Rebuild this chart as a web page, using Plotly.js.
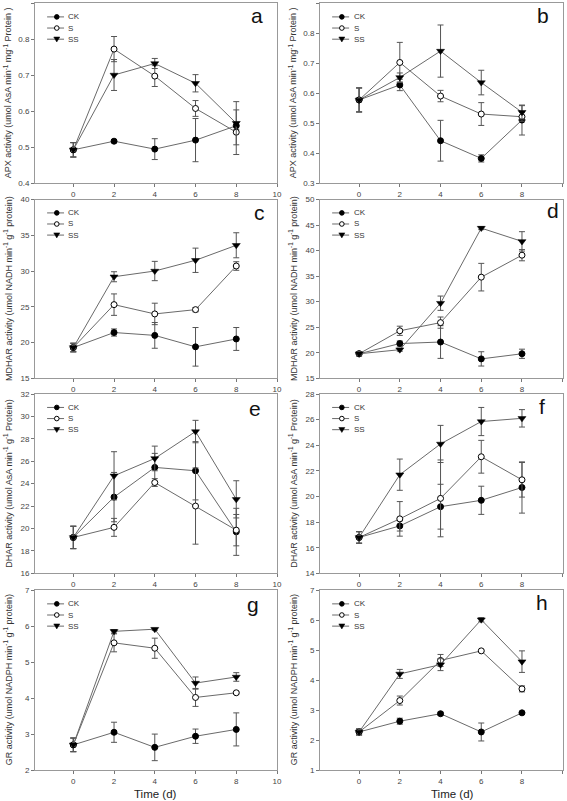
<!DOCTYPE html>
<html>
<head>
<meta charset="utf-8">
<script src="https://cdn.plot.ly/plotly-3.0.1.min.js"></script>
<style>html,body{margin:0;padding:0;background:#fff;}#chart{width:567px;height:801px;}</style>
</head>
<body>
<div id="chart"></div>
<script>
// ---- data ----
const days = [0, 2, 4, 6, 8];
const seriesNames = ['CK', 'S', 'SS'];
const panelLetters = ['a', 'b', 'c', 'd', 'e', 'f', 'g', 'h'];
const xTickVals = [0, 2, 4, 6, 8, 10];

// a: APX
const apxA_CK = [0.493, 0.517, 0.495, 0.520, 0.560];
const apxA_CK_err = [0.020, 0.004, 0.029, 0.060, 0.010];
const apxA_S = [0.493, 0.773, 0.698, 0.608, 0.542];
const apxA_S_err = [0.020, 0.035, 0.029, 0.022, 0.062];
const apxA_SS = [0.493, 0.701, 0.733, 0.678, 0.567];
const apxA_SS_err = [0.020, 0.043, 0.014, 0.024, 0.060];
// b: APX
const apxB_CK = [0.578, 0.628, 0.442, 0.383, 0.511];
const apxB_CK_err = [0.040, 0.019, 0.068, 0.012, 0.050];
const apxB_S = [0.578, 0.703, 0.591, 0.531, 0.522];
const apxB_S_err = [0.040, 0.067, 0.019, 0.038, 0.015];
const apxB_SS = [0.578, 0.653, 0.741, 0.636, 0.537];
const apxB_SS_err = [0.040, 0.015, 0.087, 0.041, 0.022];
// c: MDHAR
const mdharC_CK = [19.3, 21.4, 21.0, 19.4, 20.5];
const mdharC_CK_err = [0.6, 0.5, 1.8, 2.7, 1.6];
const mdharC_S = [19.3, 25.3, 24.0, 24.6, 30.7];
const mdharC_S_err = [0.6, 1.5, 1.5, 0.3, 0.6];
const mdharC_SS = [19.3, 29.2, 30.0, 31.5, 33.6];
const mdharC_SS_err = [0.6, 0.7, 1.35, 1.7, 1.75];
// d: MDHAR
const mdharD_CK = [19.8, 21.8, 22.1, 18.8, 19.8];
const mdharD_CK_err = [0.4, 0.5, 3.2, 1.4, 0.9];
const mdharD_S = [19.8, 24.3, 25.9, 34.8, 39.1];
const mdharD_S_err = [0.4, 0.9, 1.1, 2.7, 1.1];
const mdharD_SS = [19.8, 20.6, 29.7, 44.4, 41.8];
const mdharD_SS_err = [0.4, 0.3, 1.4, 0.3, 1.9];
// e: DHAR
const dharE_CK = [19.2, 22.8, 25.45, 25.15, 19.7];
const dharE_CK_err = [1.0, 2.2, 1.25, 2.6, 2.1];
const dharE_S = [19.2, 20.1, 24.1, 22.0, 19.85];
const dharE_S_err = [1.0, 0.8, 0.35, 3.4, 1.4];
const dharE_SS = [19.2, 24.7, 26.25, 28.65, 22.6];
const dharE_SS_err = [1.0, 2.15, 1.1, 1.0, 1.66];
// f: DHAR
const dharF_CK = [16.8, 17.7, 19.2, 19.7, 20.7];
const dharF_CK_err = [0.45, 0.4, 1.75, 1.1, 2.0];
const dharF_S = [16.8, 18.25, 19.85, 23.1, 21.3];
const dharF_S_err = [0.45, 1.35, 3.0, 1.28, 1.35];
const dharF_SS = [16.8, 21.7, 24.1, 25.85, 26.1];
const dharF_SS_err = [0.45, 1.22, 1.45, 1.1, 0.68];
// g: GR
const grG_CK = [2.70, 3.05, 2.63, 2.94, 3.13];
const grG_CK_err = [0.19, 0.28, 0.37, 0.20, 0.46];
const grG_S = [2.70, 5.54, 5.39, 4.02, 4.15];
const grG_S_err = [0.19, 0.25, 0.28, 0.25, 0.03];
const grG_SS = [2.70, 5.86, 5.92, 4.42, 4.59];
const grG_SS_err = [0.19, 0.05, 0.03, 0.17, 0.12];
// h: GR
const grH_CK = [2.27, 2.63, 2.88, 2.27, 2.91];
const grH_CK_err = [0.10, 0.10, 0.05, 0.30, 0.03];
const grH_S = [2.27, 3.32, 4.66, 4.98, 3.71];
const grH_S_err = [0.10, 0.15, 0.20, 0.03, 0.10];
const grH_SS = [2.27, 4.21, 4.52, 6.02, 4.62];
const grH_SS_err = [0.10, 0.15, 0.20, 0.07, 0.36];

const yTitles = [
  'APX activity (umol AsA min<sup>-1</sup> mg<sup>-1</sup> Protein )',
  'APX activity (umol AsA min<sup>-1</sup> mg<sup>-1</sup> Protein )',
  'MDHAR activity (umol NADH min<sup>-1</sup> g<sup>-1</sup> protein)',
  'MDHAR activity (umol NADH min<sup>-1</sup> g<sup>-1</sup> protein)',
  'DHAR activity (umol AsA min<sup>-1</sup> g<sup>-1</sup> Protein)',
  'DHAR activity (umol AsA min<sup>-1</sup> g<sup>-1</sup> Protein)',
  'GR activity (umol NADPH min<sup>-1</sup> g<sup>-1</sup> protein)',
  'GR activity (umol NADPH min<sup>-1</sup> g<sup>-1</sup> protein)'
];
const yRanges = [[0.4, 0.9], [0.3, 0.9], [15, 40], [15, 50], [16, 32], [14, 28], [2, 7], [1, 7]];
const yDticks = [0.1, 0.1, 5, 5, 2, 2, 1, 1];
const xTitle = 'Time (d)';

const panelData = [
  [[apxA_CK, apxA_CK_err], [apxA_S, apxA_S_err], [apxA_SS, apxA_SS_err]],
  [[apxB_CK, apxB_CK_err], [apxB_S, apxB_S_err], [apxB_SS, apxB_SS_err]],
  [[mdharC_CK, mdharC_CK_err], [mdharC_S, mdharC_S_err], [mdharC_SS, mdharC_SS_err]],
  [[mdharD_CK, mdharD_CK_err], [mdharD_S, mdharD_S_err], [mdharD_SS, mdharD_SS_err]],
  [[dharE_CK, dharE_CK_err], [dharE_S, dharE_S_err], [dharE_SS, dharE_SS_err]],
  [[dharF_CK, dharF_CK_err], [dharF_S, dharF_S_err], [dharF_SS, dharF_SS_err]],
  [[grG_CK, grG_CK_err], [grG_S, grG_S_err], [grG_SS, grG_SS_err]],
  [[grH_CK, grH_CK_err], [grH_S, grH_S_err], [grH_SS, grH_SS_err]]
];

// ---- layout / style ----
const W = 567, H = 801;
const FONT = 'Liberation Sans, Arial, sans-serif';
const colX = [[35, 277], [320, 562.7]];
const xRanges = [[-1.88, 10], [-1.92, 10]];
const rowY = [[3.4, 183.3], [199.5, 378.3], [394, 573.3], [590.4, 770]];
const letterPos = [[0.917, 0.935], [0.919, 0.935], [0.926, 0.927], [0.96, 0.94], [0.91, 0.92], [0.915, 0.93], [0.90, 0.92], [0.916, 0.93]];
const legY = [0.925, 0.863, 0.801];
const markerStyles = [
  {symbol: 'circle', size: 6, color: '#000', line: {color: '#000', width: 1}},
  {symbol: 'circle', size: 6, color: '#fff', line: {color: '#000', width: 1}},
  {symbol: 'triangle-down', size: 7, color: '#000', line: {color: '#000', width: 0.5}}
];

const traces = [];
const layout = {
  width: W, height: H,
  margin: {l: 0, r: 0, t: 0, b: 0},
  paper_bgcolor: '#fff', plot_bgcolor: '#fff',
  showlegend: false,
  font: {family: FONT, color: '#333'},
  annotations: [], shapes: []
};

for (let p = 0; p < 8; p++) {
  const col = p % 2, row = Math.floor(p / 2);
  const n = p + 1;
  const xs = n === 1 ? '' : String(n);
  const xa = 'x' + xs, ya = 'y' + xs;
  const xd = [colX[col][0] / W, colX[col][1] / W];
  const yd = [1 - rowY[row][1] / H, 1 - rowY[row][0] / H];
  layout['xaxis' + xs] = {
    domain: xd, anchor: ya, range: xRanges[col], tickvals: xTickVals,
    ticks: 'outside', ticklen: 3, tickcolor: '#777', showline: true, linecolor: '#999', linewidth: 1,
    mirror: true, showgrid: false, zeroline: false,
    tickfont: {size: 8, color: '#444', family: FONT}
  };
  layout['yaxis' + xs] = {
    domain: yd, anchor: xa, range: yRanges[p], dtick: yDticks[p], tick0: yRanges[p][0],
    ticks: 'outside', ticklen: 3, tickcolor: '#777', showline: true, linecolor: '#999', linewidth: 1,
    mirror: true, showgrid: false, zeroline: false,
    tickfont: {size: 8, color: '#444', family: FONT}
  };
  panelData[p].forEach((s, i) => {
    traces.push({
      type: 'scatter', mode: 'lines+markers', x: days, y: s[0], name: seriesNames[i],
      xaxis: xa, yaxis: ya, cliponaxis: false,
      line: {color: '#6a6a6a', width: 1},
      marker: markerStyles[i],
      error_y: {type: 'data', array: s[1], visible: true, color: '#555', thickness: 1, width: 3}
    });
  });
  // panel letter
  layout.annotations.push({
    xref: xa + ' domain', yref: ya + ' domain', x: letterPos[p][0], y: letterPos[p][1],
    text: panelLetters[p], showarrow: false, xanchor: 'center', yanchor: 'middle',
    font: {size: 21, color: '#111', family: FONT}
  });
  // y title
  layout.annotations.push({
    xref: 'paper', yref: ya + ' domain', x: (col === 0 ? 8 : 293) / W, y: 0.5,
    text: yTitles[p], textangle: -90, showarrow: false, xanchor: 'center', yanchor: 'middle',
    font: {size: 9, color: '#333', family: FONT}
  });
  // legend
  seriesNames.forEach((nm, i) => {
    layout.shapes.push({type: 'line', xref: xa + ' domain', yref: ya + ' domain',
      x0: 0.05, x1: 0.12, y0: legY[i], y1: legY[i], line: {color: '#6a6a6a', width: 1}});
    if (i < 2) {
      layout.shapes.push({type: 'circle', xref: xa + ' domain', yref: ya + ' domain',
        xsizemode: 'pixel', ysizemode: 'pixel', xanchor: 0.09, yanchor: legY[i],
        x0: -2.3, x1: 2.3, y0: -2.3, y1: 2.3,
        fillcolor: i === 0 ? '#000' : '#fff', line: {color: '#000', width: 1}});
    } else {
      layout.shapes.push({type: 'path', xref: xa + ' domain', yref: ya + ' domain',
        xsizemode: 'pixel', ysizemode: 'pixel', xanchor: 0.09, yanchor: legY[i],
        path: 'M-3,2.2L3,2.2L0,-2.8Z', fillcolor: '#000', line: {color: '#000', width: 0.5}});
    }
    layout.annotations.push({
      xref: xa + ' domain', yref: ya + ' domain', x: 0.13, y: legY[i],
      text: nm, showarrow: false, xanchor: 'left', yanchor: 'middle',
      font: {size: 8, color: '#333', family: FONT}
    });
  });
}
// x titles
layout.annotations.push({xref: 'paper', yref: 'paper', x: 155 / W, y: 1 - 794 / H, text: xTitle,
  showarrow: false, xanchor: 'center', yanchor: 'middle', font: {size: 11.5, color: '#222', family: FONT}});
layout.annotations.push({xref: 'paper', yref: 'paper', x: 452 / W, y: 1 - 794 / H, text: xTitle,
  showarrow: false, xanchor: 'center', yanchor: 'middle', font: {size: 11.5, color: '#222', family: FONT}});

Plotly.newPlot('chart', traces, layout, {staticPlot: true, displayModeBar: false});
</script>
</body>
</html>
